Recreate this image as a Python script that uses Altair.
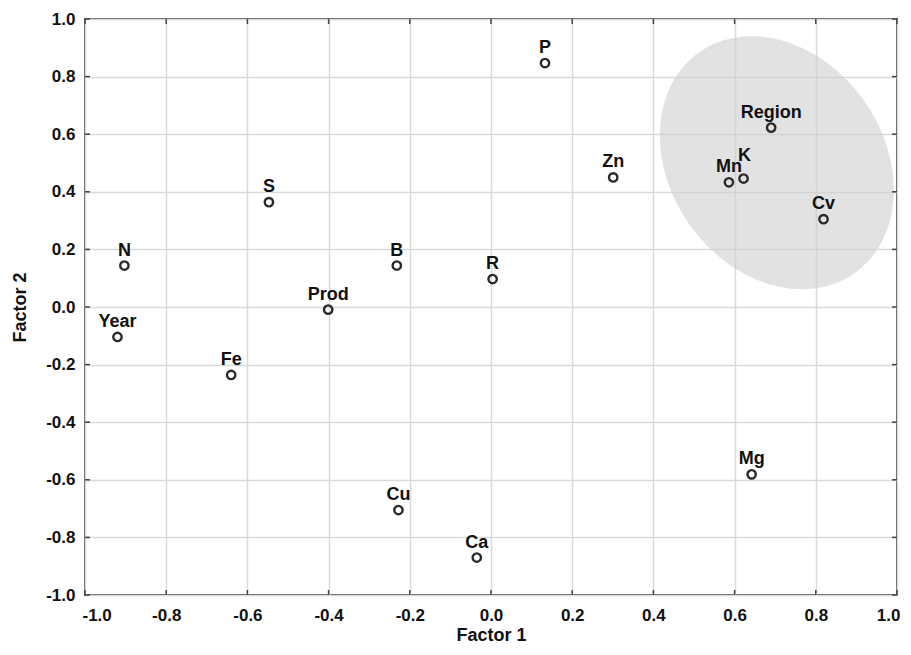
import altair as alt
import numpy as np
import pandas as pd

# ---- data ----
names = ["P", "Region", "K", "Mn", "Cv", "Zn", "S", "N", "B", "R",
         "Prod", "Year", "Fe", "Cu", "Ca", "Mg"]
factor1 = [0.133, 0.690, 0.622, 0.586, 0.819, 0.301, -0.547, -0.903, -0.232, 0.004,
           -0.401, -0.920, -0.640, -0.228, -0.035, 0.642]
factor2 = [0.847, 0.623, 0.446, 0.433, 0.305, 0.450, 0.364, 0.144, 0.144, 0.097,
           -0.009, -0.104, -0.236, -0.705, -0.870, -0.581]
raised_label = [0, 0, 1, 0, 0, 0, 0, 0, 0, 0, 0, 0, 0, 0, 0, 0]

tick_values = [-1.0, -0.8, -0.6, -0.4, -0.2, 0.0, 0.2, 0.4, 0.6, 0.8, 1.0]

# highlighted cluster ellipse (centre in data units, axes/angle as drawn on screen)
ell_center = (0.704, 0.501)
ell_semi_major_px = 135.0
ell_semi_minor_px = 107.0
ell_angle_deg = 55.0  # major axis tilted from upper-left to lower-right

W, H = 812, 576
FONT = "Liberation Sans"

points = pd.DataFrame({"name": names, "f1": factor1, "f2": factor2, "raised": raised_label})
ticks = pd.DataFrame({"v": tick_values})

# ellipse outline as vertical slices (upper / lower curve) for an area mark
sx, sy = W / 2.0, H / 2.0
th = np.radians(ell_angle_deg)
a, b = ell_semi_major_px, ell_semi_minor_px
A = np.cos(th) ** 2 / a ** 2 + np.sin(th) ** 2 / b ** 2
B = np.cos(th) * np.sin(th) * (1 / a ** 2 - 1 / b ** 2)
C = np.sin(th) ** 2 / a ** 2 + np.cos(th) ** 2 / b ** 2
half_w = np.sqrt(a ** 2 * np.cos(th) ** 2 + b ** 2 * np.sin(th) ** 2)
dxp = half_w * np.cos(np.linspace(np.pi, 0, 241))
disc = np.clip(B ** 2 * dxp ** 2 - C * (A * dxp ** 2 - 1), 0, None)
dy_top = (-B * dxp - np.sqrt(disc)) / C   # screen y-down
dy_bot = (-B * dxp + np.sqrt(disc)) / C
ellipse = pd.DataFrame({
    "ex": ell_center[0] + dxp / sx,
    "ey1": ell_center[1] - dy_top / sy,
    "ey2": ell_center[1] - dy_bot / sy,
})

xs = alt.Scale(domain=[-1, 1], nice=False, zero=False)
ys = alt.Scale(domain=[-1, 1], nice=False, zero=False)
label_expr = "datum.value < 0 ? '-' + format(-datum.value, '.1f') : format(datum.value, '.1f')"

x_axis = alt.Axis(values=tick_values, labelExpr=label_expr, title="Factor 1",
                  labelPadding=12, titlePadding=3, labelFlush=True, labelFlushOffset=3)
y_axis = alt.Axis(values=tick_values, labelExpr=label_expr, title="Factor 2",
                  labelPadding=10, titlePadding=16)


def X(field):
    return alt.X(field, scale=xs, axis=x_axis)


def Y(field):
    return alt.Y(field, scale=ys, axis=y_axis)


ell_layer = alt.Chart(ellipse).mark_area(color="#cfcfcf", opacity=0.6).encode(
    x=X("ex:Q"), y=Y("ey1:Q"), y2="ey2:Q",
)

tick_color = "#444"
bottom_ticks = alt.Chart(ticks).mark_rule(color=tick_color, strokeWidth=1.5).encode(
    x=X("v:Q"), y=alt.value(H), y2=alt.value(H - 5))
top_ticks = alt.Chart(ticks).mark_rule(color=tick_color, strokeWidth=1.5).encode(
    x=X("v:Q"), y=alt.value(0), y2=alt.value(5))
left_ticks = alt.Chart(ticks).mark_rule(color=tick_color, strokeWidth=1.5).encode(
    y=Y("v:Q"), x=alt.value(0), x2=alt.value(5))
right_ticks = alt.Chart(ticks).mark_rule(color=tick_color, strokeWidth=1.5).encode(
    y=Y("v:Q"), x=alt.value(W), x2=alt.value(W - 5))

pts = alt.Chart(points).mark_point(shape="circle", filled=False, stroke="#2a2a2a",
                                   strokeWidth=2.4, size=70, opacity=1).encode(
    x=X("f1:Q"), y=Y("f2:Q"),
)

txt_common = dict(font=FONT, fontSize=18, fontWeight="bold", color="#111",
                  align="center", baseline="alphabetic")
labels = alt.Chart(points).transform_filter("datum.raised == 0").mark_text(dy=-10, **txt_common).encode(
    x=X("f1:Q"), y=Y("f2:Q"), text="name:N",
)
labels_up = alt.Chart(points).transform_filter("datum.raised == 1").mark_text(dy=-18, dx=1, **txt_common).encode(
    x=X("f1:Q"), y=Y("f2:Q"), text="name:N",
)

chart = alt.layer(ell_layer, bottom_ticks, top_ticks, left_ticks, right_ticks, pts, labels, labels_up).properties(
    width=W, height=H,
    padding={"left": 3, "top": 2, "right": 0, "bottom": 0},
).configure_view(
    stroke="#555", strokeWidth=2,
).configure_axis(
    domain=False, ticks=False,
    grid=True, gridColor="#d9d9d9", gridWidth=1.5,
    labelFont=FONT, labelFontSize=17, labelFontWeight="bold", labelColor="#111",
    titleFont=FONT, titleFontSize=18, titleFontWeight="bold", titleColor="#111",
)

chart.save("out.html", embed_options={"renderer": "svg", "actions": False})
